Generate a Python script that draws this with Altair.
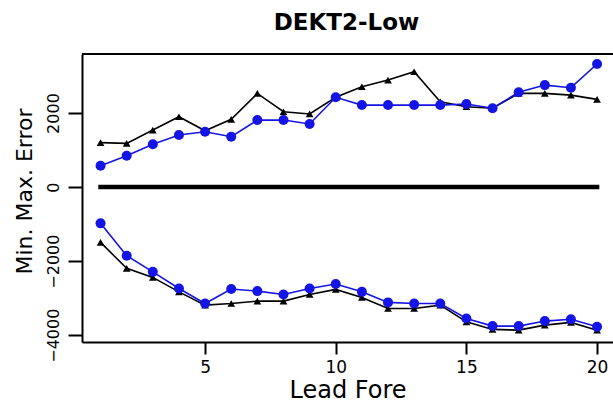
import altair as alt
import pandas as pd

# Lead time (forecast step)
lead = [1, 2, 3, 4, 5, 6, 7, 8, 9, 10, 11, 12, 13, 14, 15, 16, 17, 18, 19, 20]

# Maximum errors
max_black = [1200, 1180, 1540, 1900, 1520, 1830, 2530, 2035, 1975, 2425,
             2710, 2890, 3115, 2305, 2170, 2130, 2530, 2530, 2485, 2370]
max_blue = [575, 845, 1155, 1405, 1495, 1360, 1810, 1810, 1705, 2425,
            2215, 2215, 2215, 2215, 2245, 2130, 2560, 2755, 2685, 3325]

# Minimum errors
min_black = [-1495, -2195, -2440, -2830, -3190, -3145, -3080, -3080, -2900, -2765,
             -2980, -3280, -3280, -3190, -3640, -3845, -3865, -3730, -3655, -3865]
min_blue = [-980, -1855, -2290, -2740, -3145, -2755, -2810, -2900, -2740, -2620,
            -2830, -3115, -3145, -3145, -3550, -3755, -3755, -3620, -3570, -3775]

TITLE = "DEKT2-Low"

BLUE = "#1414e6"
BLACK = "#000000"
FONT = "DejaVu Sans"

W, H = 531, 288
x_scale = alt.Scale(domain=[0.29, 20.61], nice=False, zero=False)
y_scale = alt.Scale(domain=[-4185, 3595], nice=False, zero=False)

x_axis = alt.Axis(
    values=[5, 10, 15, 20], title="Lead Fore", grid=False,
    tickSize=12, tickWidth=2, tickColor=BLACK,
    domainWidth=2, domainColor=BLACK,
    labelFont=FONT, labelFontSize=17, labelColor=BLACK, labelPadding=5,
    labelAngle=0,
    titleFont=FONT, titleFontSize=24, titleFontWeight="normal", titleColor=BLACK,
    titleY=55, titleBaseline="alphabetic",
)
y_axis = alt.Axis(
    values=[-4000, -2000, 0, 2000], format="d", title="Min. Max. Error", grid=False,
    tickSize=14, tickWidth=2, tickColor=BLACK,
    domainWidth=2, domainColor=BLACK,
    labelFont=FONT, labelFontSize=16, labelColor=BLACK, labelPadding=10,
    labelAngle=-90, labelAlign="center", labelBaseline="alphabetic",
    titleFont=FONT, titleFontSize=22, titleFontWeight="normal", titleColor=BLACK,
    titleX=-58, titleY=137, titleAlign="center", titleBaseline="middle", titleAngle=-90,
)


def xy(xfield, yfield):
    return dict(
        x=alt.X(xfield, scale=x_scale, axis=x_axis),
        y=alt.Y(yfield, scale=y_scale, axis=y_axis),
    )


def series(values, color, shape, size):
    df = pd.DataFrame({"lead": lead, "err": values})
    line = alt.Chart(df).mark_line(color=color, strokeWidth=1.6).encode(**xy("lead:Q", "err:Q"))
    pts = alt.Chart(df).mark_point(
        shape=shape, filled=True, color=color, size=size, opacity=1
    ).encode(**xy("lead:Q", "err:Q"))
    return [line, pts]


# zero reference line across the lead range
zero_df = pd.DataFrame({"x1": [1], "x2": [20], "y": [0], "label": [TITLE]})
zero_line = alt.Chart(zero_df).mark_rule(
    color=BLACK, strokeWidth=4.5, strokeCap="square"
).encode(x2="x2:Q", **xy("x1:Q", "y:Q"))

# top edge of the plot box
top_edge = alt.Chart(zero_df).mark_rule(color=BLACK, strokeWidth=2).encode(
    x=alt.value(0), x2=alt.value(W), y=alt.value(0)
)

# chart heading above the plot box
heading = alt.Chart(zero_df).mark_text(
    font=FONT, fontSize=23, fontWeight="bold", color=BLACK,
    align="center", baseline="alphabetic",
).encode(x=alt.value(W / 2 - 1), y=alt.value(-24), text="label:N")

layers = [zero_line, top_edge, heading]
layers += series(max_black, BLACK, "triangle-up", 60)
layers += series(min_black, BLACK, "triangle-up", 60)
layers += series(max_blue, BLUE, "circle", 100)
layers += series(min_blue, BLUE, "circle", 100)

chart = alt.layer(*layers).properties(
    width=W,
    height=H,
    autosize=alt.AutoSizeParams(type="none"),
    padding={"left": 82, "top": 54, "right": 0, "bottom": 62},
    background="white",
).configure_view(strokeWidth=0)

chart.save("out.html", embed_options={"renderer": "svg", "actions": False})
